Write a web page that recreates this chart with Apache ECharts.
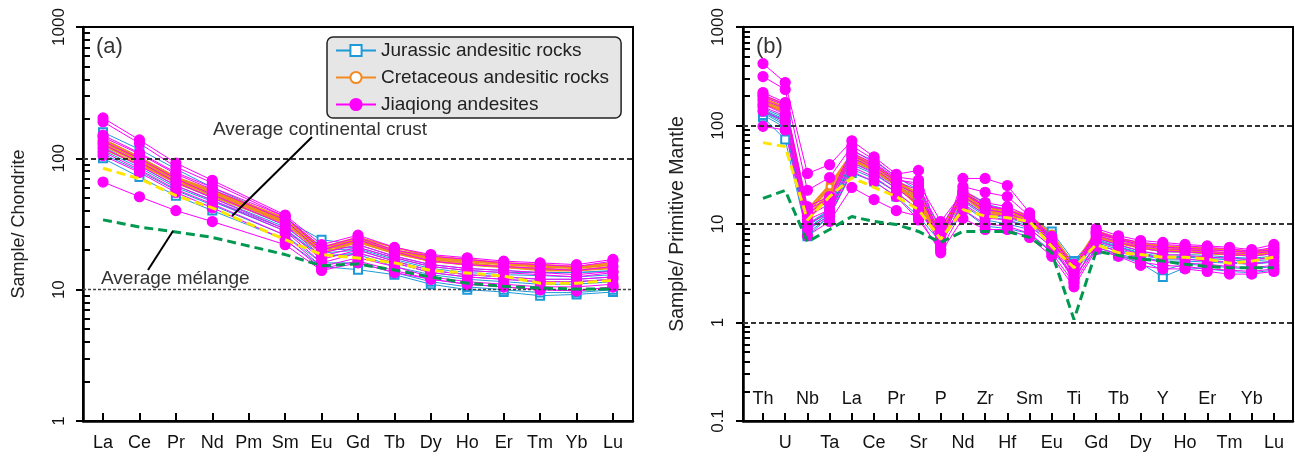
<!DOCTYPE html>
<html>
<head>
<meta charset="utf-8">
<script src="https://cdn.jsdelivr.net/npm/echarts@6.0.0/dist/echarts.min.js"></script>
<style>
  html, body { margin: 0; padding: 0; background: #fff; }
  #main { width: 1295px; height: 456px; }
</style>
</head>
<body>
<div id="main"></div>
<script>
// ---- categories ----
var reeElements = ['La', 'Ce', 'Pr', 'Nd', 'Pm', 'Sm', 'Eu', 'Gd', 'Tb', 'Dy', 'Ho', 'Er', 'Tm', 'Yb', 'Lu'];
var spiderElements = ['Th', 'U', 'Nb', 'Ta', 'La', 'Ce', 'Pr', 'Sr', 'P', 'Nd', 'Zr', 'Hf', 'Sm', 'Eu', 'Ti', 'Gd', 'Tb', 'Dy', 'Y', 'Ho', 'Er', 'Tm', 'Yb', 'Lu'];

// ---- y ticks ----
var ticksLeftMajor = [1, 10, 100, 1000];
var ticksLeftMinor = [2, 3, 4, 5, 6, 7, 8, 9, 20, 30, 40, 50, 60, 70, 80, 90, 200, 300, 400, 500, 600, 700, 800, 900];
var ticksRightMajor = [0.1, 1, 10, 100, 1000];
var ticksRightMinor = [0.2, 0.3, 0.4, 0.5, 0.6, 0.7, 0.8, 0.9, 2, 3, 4, 5, 6, 7, 8, 9, 20, 30, 40, 50, 60, 70, 80, 90, 200, 300, 400, 500, 600, 700, 800, 900];

// ---- (a) chondrite-normalized REE (Pm not analysed) ----
var reeJurassic = [
  [158, 117, 83, 60, null, 34, 24, 22, 18, 15.5, 14.5, 14, 13.5, 13.5, 14],
  [100, 72, 52, 40, null, 24, 15, 14.2, 13, 11, 10, 9.6, 9, 9.2, 9.6],
  [128, 92, 65, 50, null, 30, 19, 20, 16.5, 14, 13, 12.5, 12, 12, 12.5],
  [115, 85, 60, 47, null, 28, 18, 18.5, 15, 13, 12, 11.5, 11, 11, 11.5],
  [140, 103, 72, 54, null, 32, 21, 21, 17.5, 15, 14, 13.5, 13.5, 13.5, 13.8],
  [108, 80, 57, 44, null, 26, 16, 16, 13.5, 11.5, 10.5, 10, 9.5, 9.5, 10],
  [122, 88, 62, 48, null, 29, 18, 19, 16, 13.5, 12.5, 12, 11.5, 11.5, 12],
  [132, 97, 68, 52, null, 31, 20, 20.5, 17, 14.5, 13.5, 13, 12.8, 12.5, 13]
];
var reeCretaceous = [
  [140, 102, 72, 57, null, 35, 21, 25, 21, 18, 17, 16, 15.5, 15, 16],
  [132, 98, 70, 55, null, 34, 21, 24, 20, 17.5, 16.5, 15.5, 15, 14.5, 15.5],
  [125, 93, 67, 53, null, 33, 20, 23.5, 19.5, 17, 16, 15, 14.5, 14, 15],
  [118, 90, 65, 51, null, 32, 19, 23, 19, 16.5, 15.5, 15, 14, 14, 14.5],
  [136, 100, 71, 56, null, 34, 20, 24.5, 20, 17.5, 16.5, 16, 15, 14.8, 15.5],
  [128, 95, 68, 54, null, 33, 20, 23, 19, 16.5, 15.5, 14.8, 14.2, 14, 14.8]
];
var reeJiaqiong = [
  [203, 138, 92, 68, null, 37, 22, 26, 21, 18.5, 17.5, 16.5, 16, 15.5, 17],
  [190, 130, 86, 65, null, 36, 21, 25, 20, 18, 17, 16, 15.5, 15, 16.5],
  [66, 51, 40, 33, null, 22, 14, 16, 13.5, 12, 11, 10.5, 10, 9.8, 10.5],
  [145, 108, 76, 58, null, 34, 19, 22, 18, 15.5, 14.5, 14, 13.5, 13, 13.8],
  [120, 88, 62, 48, null, 28, 16, 19, 16, 13.5, 12.5, 12, 11.5, 11.5, 12],
  [105, 78, 55, 42, null, 24, 14.5, 16.5, 14, 12, 11, 10.5, 10, 9.8, 10.5],
  [135, 100, 70, 53, null, 31, 18, 21, 17.5, 15, 14, 13.5, 13, 12.5, 13.5],
  [112, 82, 58, 45, null, 26, 15, 17.5, 15, 12.5, 11.5, 11, 10.5, 10.5, 11],
  [150, 110, 78, 60, null, 36, 20, 24, 19.5, 16.5, 15.5, 15, 14.5, 14, 15],
  [128, 94, 66, 50, null, 29, 17, 20, 16.5, 14, 13, 12.5, 12, 12, 12.5]
];
var reeCrust = [84, 70, 52, 42, null, 24, 18.5, 17.4, 16, 14, 13.4, 12.7, 11.2, 11.2, 11.8];
var reeMelange = [34, 30, 27.5, 25, null, 18.5, 15.2, 15.7, 14.1, 12.5, 11.2, 10.6, 10.3, 10.1, 10.1];

// ---- (b) primitive-mantle-normalized trace elements ----
var spiderJurassic = [
  [150, 120, 9.5, 14, 55, 44, 30, 22, 9, 22, 16, 14, 12, 8.4, 4.2, 7.8, 6.5, 5.7, 5.2, 5.2, 5, 4.9, 4.8, 5],
  [121, 72, 7.5, 12, 33, 27, 19, 12, 6.5, 14, 9.5, 9, 8, 5.3, 3, 5.5, 4.8, 4, 2.9, 3.6, 3.5, 3.3, 3.2, 3.4],
  [140, 110, 9, 13, 45, 36, 25, 18, 8, 19, 13, 12, 10.5, 7, 3.8, 6.8, 5.8, 5, 4.5, 4.6, 4.5, 4.3, 4.2, 4.4],
  [135, 100, 8.5, 12.5, 40, 32, 23, 16, 7.5, 17, 12, 11, 9.5, 6.4, 3.5, 6.2, 5.3, 4.6, 4.2, 4.2, 4.1, 4, 3.9, 4.1],
  [145, 115, 10, 14, 50, 40, 27, 20, 8.5, 20, 14.5, 13, 11, 7.6, 4, 7.2, 6.1, 5.3, 4.8, 4.9, 4.8, 4.6, 4.5, 4.7],
  [128, 95, 8, 12, 36, 29, 21, 14, 7, 15.5, 11, 10, 8.8, 6, 3.3, 5.8, 5, 4.3, 3.4, 3.9, 3.8, 3.6, 3.5, 3.7],
  [138, 105, 9, 13, 42, 34, 24, 17, 7.8, 18, 12.5, 11.5, 10, 6.7, 3.6, 6.5, 5.5, 4.8, 4.4, 4.4, 4.3, 4.1, 4, 4.2],
  [142, 112, 9.5, 13.5, 47, 38, 26, 19, 8.2, 19.5, 15.5, 12.5, 10.8, 7.3, 3.9, 7, 5.9, 5.1, 4.6, 4.7, 4.6, 4.5, 4.4, 4.6]
];
var spiderCretaceous = [
  [200, 165, 14, 25, 52, 40, 28, 20, 8.5, 22, 15, 14, 12, 8, 3.8, 8.5, 7.2, 6.4, 6, 5.9, 5.7, 5.5, 5.3, 5.6],
  [185, 155, 13, 23, 49, 38, 27, 18, 8, 21, 14, 13, 11.5, 7.6, 3.6, 8, 7, 6.2, 5.8, 5.6, 5.5, 5.3, 5.1, 5.4],
  [175, 145, 12, 21, 46, 36, 25.5, 16, 7.5, 20, 13.5, 12.5, 11, 7.2, 3.4, 7.6, 6.6, 5.9, 5.5, 5.4, 5.2, 5, 4.9, 5.2],
  [165, 140, 11, 19, 44, 35, 24.5, 15, 7.2, 19, 13, 12, 10.5, 7, 3.3, 7.3, 6.4, 5.7, 5.3, 5.2, 5, 4.9, 4.8, 5],
  [190, 150, 13, 24, 50, 39, 27, 19, 8.2, 21, 14.5, 13.5, 11.8, 7.8, 3.7, 8.2, 7.1, 6.3, 5.9, 5.8, 5.6, 5.4, 5.2, 5.5],
  [170, 135, 12, 20, 45, 35, 25, 17, 7.8, 20, 13.5, 12.5, 11, 7.3, 3.5, 7.5, 6.5, 5.8, 5.4, 5.3, 5.1, 4.9, 4.8, 5.1]
];
var spiderJiaqiong = [
  [425, 273, 32.6, 40, 70, 48, 32, 35, 6, 29, 29, 24.6, 13, 7, 3, 9, 7.6, 6.8, 6.5, 6.2, 6, 5.8, 5.5, 6.2],
  [314, 232, 22, 29.6, 62, 45, 30, 28, 5.5, 24, 21, 19, 12, 6.5, 2.8, 8.5, 7.2, 6.5, 6.2, 6, 5.8, 5.6, 5.3, 5.8],
  [98, 90, 7.6, 10.6, 23.5, 17.7, 13.7, 12, 5.1, 11.4, 8.8, 8.8, 7.3, 4.7, 2.3, 5.5, 4.7, 3.8, 3.5, 3.5, 3.3, 3.1, 3.1, 3.3],
  [216, 171, 15, 19, 57, 42, 29, 24, 9, 22, 16.5, 15, 12, 7.5, 3.5, 8.2, 7, 6.2, 5.8, 5.7, 5.5, 5.3, 5.2, 5.5],
  [180, 150, 12, 16, 47, 37, 25, 20, 7.5, 19, 14, 13, 10.5, 6.6, 3.2, 7.2, 6.2, 5.3, 4.9, 4.8, 4.6, 4.5, 4.3, 4.6],
  [155, 125, 10, 13, 38, 30, 21, 14, 6.5, 16, 11.5, 11, 9, 5.8, 2.8, 6.2, 5.3, 4.5, 4.1, 4, 3.9, 3.7, 3.6, 3.8],
  [195, 160, 13, 17, 50, 39, 27, 22, 8, 20.5, 15, 14, 11.2, 7, 3.3, 7.7, 6.6, 5.7, 5.3, 5.2, 5.1, 4.9, 4.7, 5],
  [165, 130, 11, 14, 42, 33, 23, 16, 6, 17.5, 12.5, 12, 9.8, 6.2, 2.6, 6.7, 5.7, 4.9, 4.5, 4.4, 4.2, 4.1, 3.9, 4.2],
  [205, 165, 14, 18, 53, 41, 28, 26, 10.6, 21, 15.5, 14, 11.5, 7.2, 3.9, 8, 6.9, 6, 5.6, 5.5, 5.3, 5.1, 5, 5.3],
  [140, 110, 9, 12, 34, 27, 19, 11, 5.5, 14, 10, 9.5, 8, 5.1, 2.5, 5.8, 4.9, 4.1, 3.8, 3.7, 3.5, 3.4, 3.3, 3.5]
];
var spiderCrust = [67, 61, 11, 19, 29.6, 23.5, 19, 14, 7, 14, 12, 11.6, 10.6, 5.9, 3.6, 6.2, 5.1, 4.9, 4.6, 4.6, 4.4, 4.0, 4.2, 4.6];
var spiderMelange = [18.2, 21.9, 6.6, 8.8, 11.9, 10.6, 9.9, 8.4, 6.5, 8.4, 8.4, 8.4, 7.3, 5.1, 1.07, 5.3, 4.8, 4.4, 4.2, 3.9, 3.7, 3.6, 3.6, 3.6];

var FONT = "'Liberation Sans', Arial, sans-serif";
var NARROW = "'Liberation Sans Narrow', 'Liberation Sans', Arial, sans-serif";
var NAME_JUR = 'Jurassic andesitic rocks';
var NAME_CRE = 'Cretaceous andesitic rocks';
var NAME_JIA = 'Jiaqiong andesites';

var styleJur = { color: '#1f9ad8', symbol: 'emptyRect', size: 8, width: 1 };
var styleCre = { color: '#f28a22', symbol: 'emptyCircle', size: 6, width: 1.8 };
var styleJia = { color: '#ff00ff', symbol: 'circle', size: 10, width: 1 };

function idxList(arr) { return arr.map(function (_, i) { return i; }); }

// drop the missing elements so the line runs straight across them
function toPoints(row) {
  var pts = [];
  row.forEach(function (v, i) { if (v != null) pts.push([i, v]); });
  return pts;
}

function sampleSeries(rows, name, st, gi) {
  return rows.map(function (row) {
    return {
      name: name, type: 'line', xAxisIndex: gi === 0 ? 0 : 1, yAxisIndex: gi === 0 ? 0 : 2,
      data: toPoints(row),
      symbol: st.symbol, symbolSize: st.size,
      lineStyle: { color: st.color, width: st.width },
      itemStyle: { color: st.color, borderColor: st.color, borderWidth: 1.2 },
      silent: true
    };
  });
}

function dashedSeries(row, color, gi, refLines) {
  var s = {
    type: 'line', xAxisIndex: gi === 0 ? 0 : 1, yAxisIndex: gi === 0 ? 0 : 2,
    data: toPoints(row), symbol: 'none', silent: true, z: 5,
    lineStyle: { color: color, width: 3, type: [9, 5] }
  };
  if (refLines) {
    s.markLine = {
      silent: true, symbol: 'none', label: { show: false },
      data: refLines
    };
  }
  return s;
}

var reeIdx = idxList(reeElements);
var spIdx = idxList(spiderElements);
var spEven = spIdx.filter(function (i) { return i % 2 === 0; });
var spOdd = spIdx.filter(function (i) { return i % 2 === 1; });

function xAxisBase(gi, min, max, ticks, labels, names, inside) {
  return {
    gridIndex: gi, type: 'value', min: min, max: max, position: 'bottom',
    axisLine: { show: true, onZero: false, lineStyle: { color: '#000', width: 2.5 } },
    axisTick: { show: true, inside: true, length: 8, lineStyle: { color: '#000', width: 2 }, customValues: ticks },
    axisLabel: {
      customValues: labels, inside: inside, margin: 13,
      formatter: function (v) { return names[Math.round(v)]; },
      fontFamily: FONT, fontSize: 18, color: '#111'
    },
    splitLine: { show: false }
  };
}

function yAxisMain(gi, min, max, minor, major, name, nameGap, nameSize, labelMargin) {
  return {
    gridIndex: gi, type: 'log', logBase: 10, min: min, max: max, position: 'left',
    name: name, nameLocation: 'middle', nameGap: nameGap, nameRotate: 90,
    nameTextStyle: { fontFamily: FONT, fontSize: nameSize, color: '#222' },
    axisLine: { show: true, onZero: false, lineStyle: { color: '#000', width: 2.5 } },
    axisTick: { show: true, inside: true, length: 7, lineStyle: { color: '#000', width: 2 }, customValues: minor },
    axisLabel: {
      customValues: major, rotate: 90, margin: labelMargin,
      formatter: function (v) { return String(v); },
      fontFamily: NARROW, fontSize: 17, color: '#111'
    },
    splitLine: { show: false }, minorTick: { show: false }
  };
}

function yAxisMajorTicks(gi, min, max, major) {
  return {
    gridIndex: gi, type: 'log', logBase: 10, min: min, max: max, position: 'left',
    axisLine: { show: false, onZero: false },
    axisTick: { show: true, inside: false, length: 7, lineStyle: { color: '#000', width: 2 }, customValues: major },
    axisLabel: { show: false }, splitLine: { show: false }
  };
}

var series = []
  .concat(sampleSeries(reeJurassic, NAME_JUR, styleJur, 0))
  .concat(sampleSeries(reeCretaceous, NAME_CRE, styleCre, 0))
  .concat(sampleSeries(reeJiaqiong, NAME_JIA, styleJia, 0))
  .concat(sampleSeries(spiderJurassic, NAME_JUR, styleJur, 1))
  .concat(sampleSeries(spiderCretaceous, NAME_CRE, styleCre, 1))
  .concat(sampleSeries(spiderJiaqiong, NAME_JIA, styleJia, 1));

series.push(dashedSeries(reeCrust, '#ffe600', 0, [
  { yAxis: 100, lineStyle: { color: '#333', width: 1.8, type: [5, 3] } },
  { yAxis: 10, lineStyle: { color: '#444', width: 1.3, type: [3, 2] } }
]));
series.push(dashedSeries(reeMelange, '#00994f', 0));
series.push(dashedSeries(spiderCrust, '#ffe600', 1, [
  { yAxis: 100, lineStyle: { color: '#333', width: 1.8, type: [5, 3] } },
  { yAxis: 10, lineStyle: { color: '#333', width: 1.8, type: [5, 3] } },
  { yAxis: 1, lineStyle: { color: '#333', width: 1.8, type: [5, 3] } }
]));
series.push(dashedSeries(spiderMelange, '#00994f', 1));

var option = {
  animation: false,
  backgroundColor: '#fff',
  grid: [
    { left: 83, top: 27, width: 550, height: 394, show: true, borderColor: '#000', borderWidth: 2, backgroundColor: 'transparent' },
    { left: 743, top: 27, width: 550, height: 394, show: true, borderColor: '#000', borderWidth: 2, backgroundColor: 'transparent' }
  ],
  legend: {
    left: 327, top: 37, orient: 'vertical',
    data: [NAME_JUR, NAME_CRE, NAME_JIA],
    selectedMode: false,
    itemWidth: 40, itemHeight: 14, itemGap: 8,
    padding: [4, 12, 4, 8],
    backgroundColor: '#e6e6e6', borderColor: '#222', borderWidth: 1.5, borderRadius: 6,
    textStyle: { fontFamily: FONT, fontSize: 19, color: '#222' }
  },
  xAxis: [
    xAxisBase(0, -0.55, 14.55, reeIdx, reeIdx, reeElements, false),
    xAxisBase(1, -0.9, 23.86, spIdx, spOdd, spiderElements, false),
    (function () {
      var ax = xAxisBase(1, -0.9, 23.86, spIdx, spEven, spiderElements, true);
      ax.axisLine.show = false;
      ax.axisTick.show = false;
      return ax;
    })()
  ],
  yAxis: [
    yAxisMain(0, 1, 1000, ticksLeftMinor, ticksLeftMajor, 'Sample/ Chondrite', 55, 18, 15),
    yAxisMajorTicks(0, 1, 1000, ticksLeftMajor),
    yAxisMain(1, 0.1, 1000, ticksRightMinor, ticksRightMajor, 'Sample/ Primitive Mantle', 55, 19.5, 16),
    yAxisMajorTicks(1, 0.1, 1000, ticksRightMajor)
  ],
  graphic: [
    { type: 'text', left: 96, top: 36, style: { text: '(a)', font: '22px ' + FONT, fill: '#333' } },
    { type: 'text', left: 756, top: 36, style: { text: '(b)', font: '22px ' + FONT, fill: '#333' } },
    { type: 'text', left: 213, top: 120, style: { text: 'Average continental crust', font: '19px ' + FONT, fill: '#333' } },
    { type: 'text', left: 101, top: 269, style: { text: 'Average m\u00e9lange', font: '19px ' + FONT, fill: '#333' } },
    { type: 'line', shape: { x1: 312, y1: 137, x2: 232, y2: 216 }, style: { stroke: '#000', lineWidth: 2 }, z: 20 },
    { type: 'line', shape: { x1: 173, y1: 231, x2: 148, y2: 270 }, style: { stroke: '#000', lineWidth: 2 }, z: 20 }
  ],
  series: series
};

var chart = echarts.init(document.getElementById('main'));
chart.setOption(option);
</script>
</body>
</html>
